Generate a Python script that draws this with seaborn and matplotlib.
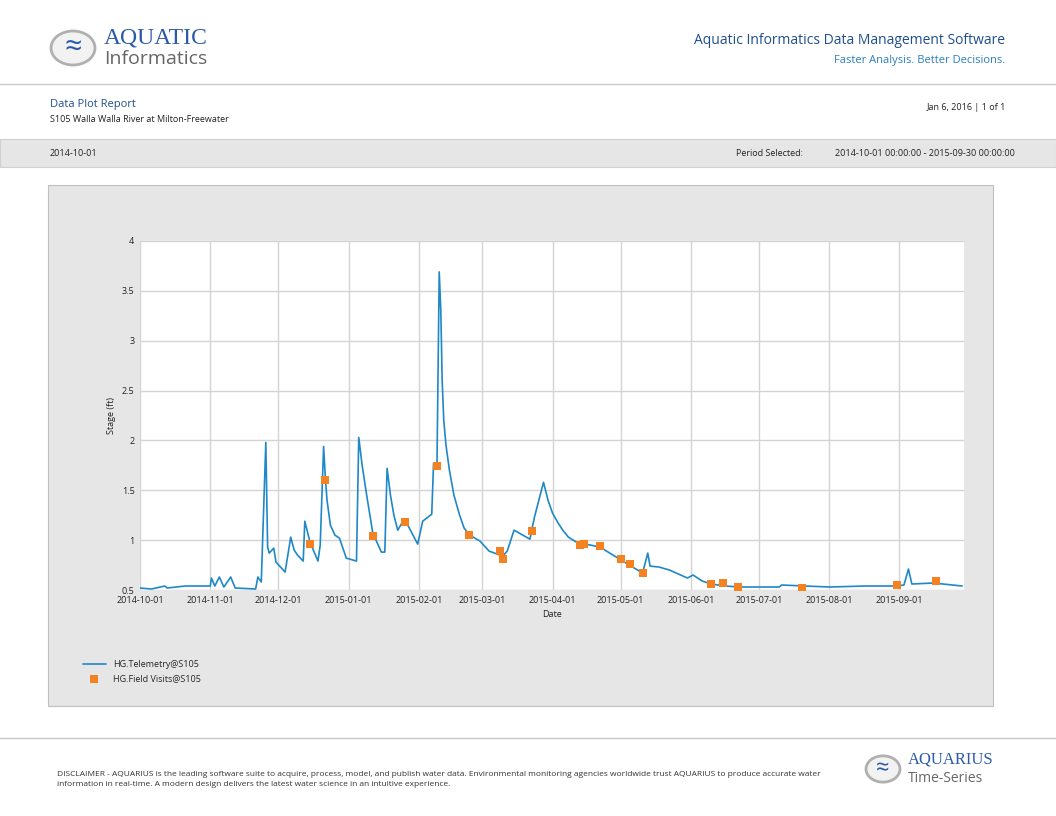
import matplotlib
matplotlib.use("Agg")
import matplotlib.pyplot as plt
import matplotlib.dates as mdates
import matplotlib.patches as mpatches
import pandas as pd
import numpy as np
import seaborn as sns

sns.set_style("white")
plt.rcParams['font.family'] = ['Open Sans', 'DejaVu Sans']

start = pd.Timestamp("2014-10-01")
tel_days = [0, 5, 11, 12, 20, 31, 31.5, 33, 35, 37, 40, 42, 51, 52, 53.5, 55.5, 56.3, 57, 59, 60, 64, 66.5, 68, 69.5, 72, 72.7, 75, 78.5, 79.5,
            81, 81.7, 82.5, 84, 86, 88, 91, 95.5, 96.5, 98, 100, 102.7, 106.5, 108, 109, 110.5, 112, 113.7, 115.5, 117, 122.5, 124.7, 128.7, 129.5, 131,
            132, 132.7, 133.3, 134, 135, 136.5, 138.5, 141, 143, 145.5, 150, 154, 160, 162, 165, 172, 174, 178, 180, 182, 184.5, 186.5, 189, 192.5, 203, 211.5,
            221.7, 224, 225, 229, 233.6, 241.5, 244, 248, 252, 258, 264.5, 282, 283, 304, 320, 333.6, 337, 339, 340.5, 350, 362.7]
tel_vals = [0.52, 0.51, 0.54, 0.52, 0.54, 0.54, 0.62, 0.54, 0.63, 0.53, 0.63, 0.52, 0.51, 0.63, 0.58, 1.98, 0.93, 0.87, 0.92, 0.78, 0.68, 1.03, 0.9, 0.85, 0.79, 1.19, 0.98, 0.79, 0.95,
            1.94, 1.65, 1.4, 1.15, 1.05, 1.02, 0.82, 0.79, 2.03, 1.75, 1.45, 1.07, 0.88, 0.88, 1.72, 1.45, 1.25, 1.1, 1.17, 1.2, 0.96, 1.19, 1.26, 1.77, 1.74,
            3.69, 3.3, 2.6, 2.2, 1.95, 1.7, 1.45, 1.25, 1.12, 1.05, 0.99, 0.89, 0.84, 0.89, 1.1, 1.01, 1.23, 1.58, 1.4, 1.27, 1.17, 1.1, 1.03, 0.98, 0.93, 0.81,
            0.67, 0.87, 0.74, 0.73, 0.70, 0.62, 0.65, 0.59, 0.56, 0.54, 0.53, 0.53, 0.55, 0.53, 0.54, 0.54, 0.55, 0.71, 0.56, 0.57, 0.54]
fv_days = [75, 81.5, 102.7, 116.8, 131, 145, 158.7, 160, 172.8, 194, 196, 203, 212, 216, 222, 252, 257, 264, 292, 334, 351]
fv_vals = [0.96, 1.60, 1.04, 1.18, 1.74, 1.05, 0.89, 0.81, 1.09, 0.95, 0.96, 0.94, 0.81, 0.76, 0.67, 0.56, 0.57, 0.53, 0.52, 0.55, 0.59]
yticks = [0.5, 1, 1.5, 2, 2.5, 3, 3.5, 4]
ytick_labels = ["0.5", "1", "1.5", "2", "2.5", "3", "3.5", "4"]

tel = pd.DataFrame({"Date": start + pd.to_timedelta(tel_days, unit="D"), "Stage": tel_vals})
fv = pd.DataFrame({"Date": start + pd.to_timedelta(fv_days, unit="D"), "Stage": fv_vals})

W, H = 1056, 816
fig = plt.figure(figsize=(W/100, H/100), dpi=100)
fig.patch.set_facecolor("white")

def fx(x): return x / W
def fy(y): return 1 - y / H

fig.add_artist(mpatches.Circle((fx(73), fy(48)), 22/W, transform=fig.transFigure, facecolor="#f2f2f2", edgecolor="#b0b0b0", lw=2))
fig.text(fx(73), fy(48), "≈", color="#2a5aa8", fontsize=22, ha="center", va="center")
fig.text(fx(104), fy(38), "AQUATIC", color="#2a5aa8", fontsize=17, va="center", family=["Liberation Serif"])
fig.text(fx(104), fy(59), "Informatics", color="#666666", fontsize=14, va="center")
fig.text(fx(1005), fy(41), "Aquatic Informatics Data Management Software", color="#1f4e8c", fontsize=10, ha="right", va="center")
fig.text(fx(1005), fy(60), "Faster Analysis. Better Decisions.", color="#2a7fc0", fontsize=8, ha="right", va="center")
fig.add_artist(plt.Line2D([0, 1], [fy(84), fy(84)], color="#c8c8c8", lw=1, transform=fig.transFigure))
fig.text(fx(50), fy(104), "Data Plot Report", color="#1f4e8c", fontsize=8, va="center")
fig.text(fx(50), fy(119), "S105 Walla Walla River at Milton-Freewater", color="#222222", fontsize=6.5, va="center")
fig.text(fx(1006), fy(107), "Jan 6, 2016 | 1 of 1", color="#222222", fontsize=6.5, ha="right", va="center")
fig.add_artist(mpatches.Rectangle((0, fy(167)), 1, 28/H, transform=fig.transFigure, facecolor="#e6e6e6", edgecolor="#d0d0d0", lw=0.8, zorder=-2))
fig.text(fx(50), fy(153), "2014-10-01", color="#222222", fontsize=6.5, va="center")
fig.text(fx(803), fy(153), "Period Selected:", color="#222222", fontsize=6.5, ha="right", va="center")
fig.text(fx(1015), fy(153), "2014-10-01 00:00:00 - 2015-09-30 00:00:00", color="#222222", fontsize=6.5, ha="right", va="center")

fig.add_artist(mpatches.Rectangle((fx(48), fy(706)), 945/W, 521/H, transform=fig.transFigure, facecolor="#e6e6e6", edgecolor="#c0c0c0", lw=0.8, zorder=-2))

ax = fig.add_axes([fx(140), fy(590), 824/W, 349/H])
ax.set_zorder(1)
ax.set_facecolor("white")
sns.lineplot(data=tel, x="Date", y="Stage", ax=ax, color="#1f88c8", lw=1.2, label="HG.Telemetry@S105")
sns.scatterplot(data=fv, x="Date", y="Stage", ax=ax, color="#f58220", marker="s", s=28, edgecolor="#f58220", linewidth=0, label="HG.Field Visits@S105", zorder=5)
ax.set_xlim(start, start + pd.Timedelta(days=363.5))
ax.set_ylim(0.5, 4)
ax.set_yticks(yticks)
ax.set_yticklabels(ytick_labels)
ax.xaxis.set_major_locator(mdates.MonthLocator())
ax.xaxis.set_major_formatter(mdates.DateFormatter("%Y-%m-%d"))
ax.grid(True, color="#d4d4d4", lw=1)
for s in ax.spines.values():
    s.set_visible(False)
ax.tick_params(labelsize=6.5, length=0, pad=4, colors="#222222")
ax.set_xlabel("Date", fontsize=6.5, color="#222222")
ax.set_ylabel("Stage (ft)", fontsize=6.5, color="#222222")
ax.legend(loc="upper left", bbox_to_anchor=(fx(75), fy(652)), bbox_transform=fig.transFigure, frameon=False, fontsize=6.5, handlelength=2.5, labelspacing=0.6)

fig.add_artist(plt.Line2D([0, 1], [fy(738), fy(738)], color="#c8c8c8", lw=1, transform=fig.transFigure))
fig.text(fx(57), fy(780), "DISCLAIMER - AQUARIUS is the leading software suite to acquire, process, model, and publish water data. Environmental monitoring agencies worldwide trust AQUARIUS to produce accurate water\ninformation in real-time. A modern design delivers the latest water science in an intuitive experience.", color="#333333", fontsize=6.0, va="center", linespacing=1.6)
fig.add_artist(mpatches.Circle((fx(883), fy(769)), 17/W, transform=fig.transFigure, facecolor="#f2f2f2", edgecolor="#b0b0b0", lw=2))
fig.text(fx(883), fy(769), "≈", color="#2a5aa8", fontsize=17, ha="center", va="center")
fig.text(fx(908), fy(760), "AQUARIUS", color="#2a5aa8", fontsize=12, va="center", family=["Liberation Serif"])
fig.text(fx(908), fy(778), "Time-Series", color="#666666", fontsize=10, va="center")

fig.savefig("out.png", dpi=100)
